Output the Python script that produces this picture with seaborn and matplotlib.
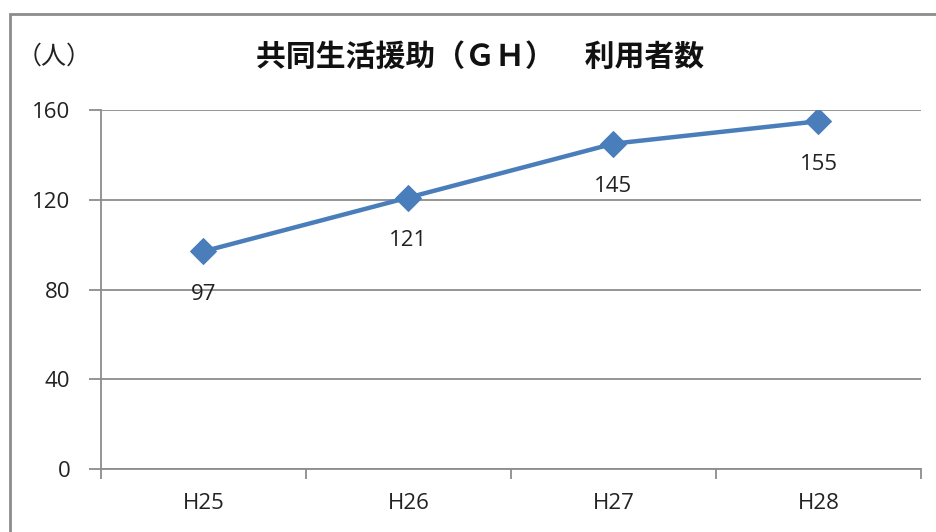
import matplotlib
matplotlib.use('Agg')
import matplotlib.pyplot as plt
import seaborn as sns
import pandas as pd
from matplotlib.patches import Rectangle

years = ['H25', 'H26', 'H27', 'H28']
users = [97, 121, 145, 155]
y_ticks = [0, 40, 80, 120, 160]
title = '共同生活援助（ＧＨ）　利用者数'
unit_label = '（人）'

sns.set_style('white')
plt.rcParams['font.family'] = ['Open Sans', 'Noto Sans CJK JP', 'DejaVu Sans']

df = pd.DataFrame({'year': years, 'users': users})

fig = plt.figure(figsize=(9.36, 5.32), dpi=100)
ax = fig.add_axes([0.1079, 0.1184, 0.876, 0.6748])

line_color = '#4a7ebb'
sns.lineplot(data=df, x='year', y='users', ax=ax, color=line_color, linewidth=3.2,
             marker='D', markersize=13, markeredgecolor=line_color, sort=False)

for i, v in enumerate(users):
    ax.annotate(str(v), (i, v), xytext=(0, -31), textcoords='offset points',
                ha='center', va='center', fontsize=16, color='#222222')

ax.set_xlim(-0.5, 3.5)
ax.set_ylim(0, 160)
ax.set_yticks(y_ticks)
ax.set_xticks(range(len(years)))
ax.set_xticklabels(years)
ax.set_xticks([i - 0.5 for i in range(len(years) + 1)], minor=True)
ax.yaxis.grid(True, color='#8c8c8c', linewidth=1.3)
ax.set_axisbelow(True)
ax.set_xlabel('')
ax.set_ylabel('')

for side in ['top', 'right']:
    ax.spines[side].set_visible(False)
for side in ['left', 'bottom']:
    ax.spines[side].set_color('#8c8c8c')
    ax.spines[side].set_linewidth(1.3)

ax.tick_params(axis='y', which='major', left=True, length=9, width=1.3, color='#8c8c8c',
               labelsize=16, pad=13, labelcolor='#222222')
ax.tick_params(axis='x', which='major', bottom=False, labelsize=16, pad=14, labelcolor='#222222')
ax.tick_params(axis='x', which='minor', bottom=True, length=7, width=1.3, color='#8c8c8c')

fig.text(0.513, 0.893, title, ha='center', va='center', fontsize=21.5, fontweight='bold',
         color='#111111', family=['Noto Sans CJK JP', 'DejaVu Sans'])
fig.text(0.058, 0.893, unit_label, ha='center', va='center', fontsize=18, color='#222222',
         family=['Noto Sans CJK JP', 'DejaVu Sans'])

# outer chart border (cut off at right/bottom in the reference)
fig.patches.append(Rectangle((10 / 936, -0.1), 1.2, 1.1 - 14 / 532,
                             transform=fig.transFigure, fill=False,
                             edgecolor='#8c8c8c', linewidth=2))

fig.savefig('out.png', dpi=100, facecolor='white')
